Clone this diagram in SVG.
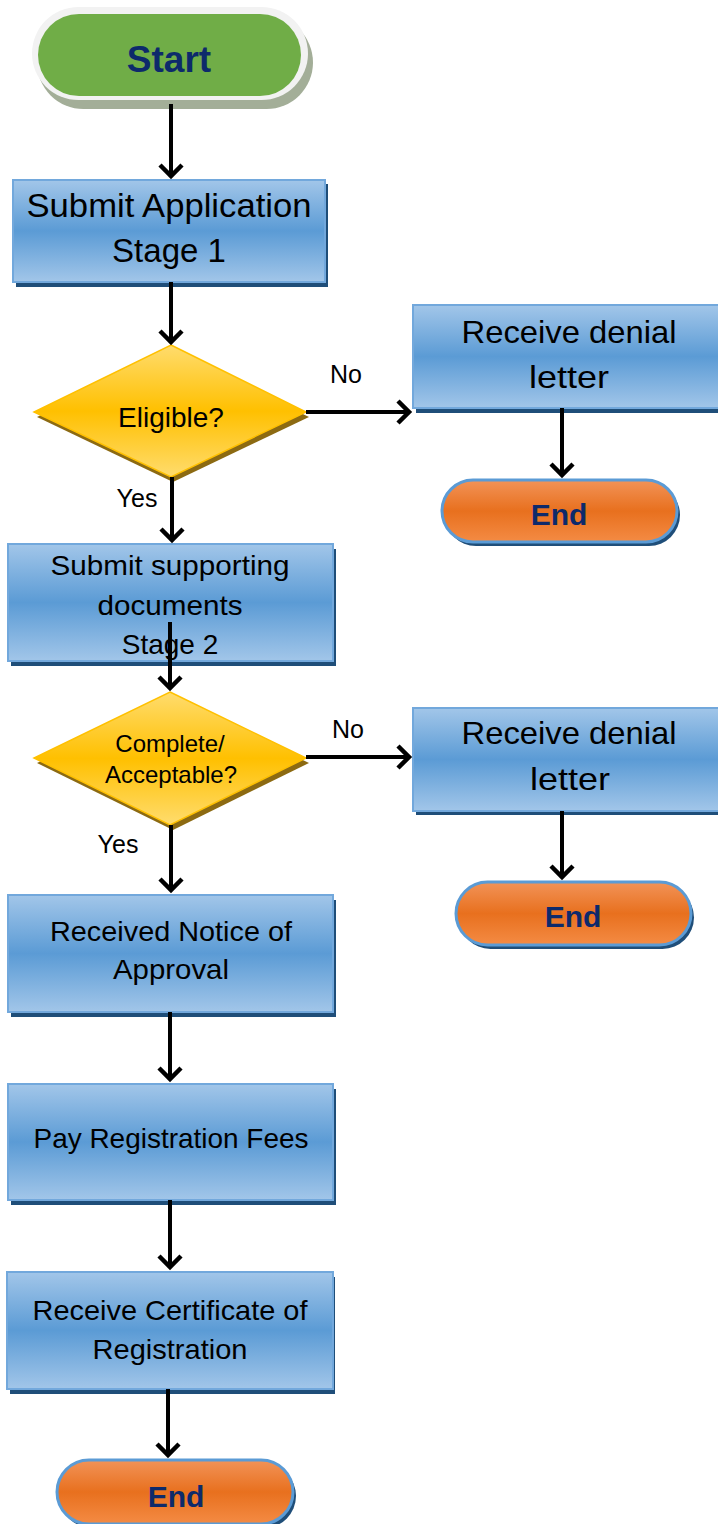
<svg xmlns="http://www.w3.org/2000/svg" width="718" height="1524" viewBox="0 0 718 1524">
<defs>
<linearGradient id="gBlue" x1="0" y1="0" x2="0" y2="1">
<stop offset="0" stop-color="#A2C6E9"/>
<stop offset="0.5" stop-color="#5B9BD5"/>
<stop offset="1" stop-color="#A2C6E9"/>
</linearGradient>
<linearGradient id="gYel" x1="0" y1="0" x2="0" y2="1">
<stop offset="0" stop-color="#FFDC6E"/>
<stop offset="0.5" stop-color="#FFC000"/>
<stop offset="1" stop-color="#FFDC6E"/>
</linearGradient>
<linearGradient id="gOr" x1="0" y1="0" x2="0" y2="1">
<stop offset="0" stop-color="#F29358"/>
<stop offset="0.5" stop-color="#E8701E"/>
<stop offset="1" stop-color="#F48B44"/>
</linearGradient>
<marker id="ah" viewBox="-16 -14 20 28" refX="0" refY="0" markerWidth="20" markerHeight="28" markerUnits="userSpaceOnUse" orient="auto">
<path d="M-11,-11 L0,0 L-11,11" fill="none" stroke="#000" stroke-width="4.5"/>
</marker>
</defs>
<style>
.box{fill:url(#gBlue);stroke:#72A8DC;stroke-width:2}
.bsh{fill:#1F4E79}
.dia{fill:url(#gYel);stroke:#FFC000;stroke-width:1.5}
.dsh{fill:#8C6A12}
.end{fill:url(#gOr);stroke:#5B9BD5;stroke-width:3}
.esh{fill:#1F4E79}
.t{font-family:"Liberation Sans",Arial,sans-serif;fill:#000;text-anchor:middle}
.tb{font-family:"Liberation Sans",Arial,sans-serif;font-weight:bold;fill:#0D2A6B;text-anchor:middle}
.c{stroke:#000;stroke-width:4;fill:none;marker-end:url(#ah)}
</style>

<g id="start">
<rect x="37" y="16" width="276" height="93" rx="46.5" fill="#A3AE98"/>
<rect x="32" y="7" width="276" height="93" rx="46.5" fill="#F2F2F2"/>
<rect x="38" y="14" width="263" height="82" rx="41" fill="#70AD47"/>
<text class="tb" x="169" y="72" font-size="37">Start</text>
</g>

<g id="submit1">
<rect class="bsh" x="16" y="184" width="312" height="103"/>
<rect class="box" x="13" y="180" width="312" height="102"/>
<text class="t" x="169" y="217" font-size="33" textLength="285" lengthAdjust="spacingAndGlyphs">Submit Application</text>
<text class="t" x="169" y="262" font-size="33">Stage 1</text>
</g>

<g id="eligible">
<polygon class="dsh" points="171,350 309,417 173,482 37,417"/>
<polygon class="dia" points="171,345 306,412 171,477 34,412"/>
<text class="t" x="171" y="427" font-size="28">Eligible?</text>
</g>

<g id="denial1">
<rect class="bsh" x="416" y="309" width="310" height="104"/>
<rect class="box" x="413" y="305" width="310" height="103"/>
<text class="t" x="569" y="343" font-size="32" textLength="215" lengthAdjust="spacingAndGlyphs">Receive denial</text>
<text class="t" x="569" y="388" font-size="32" textLength="80" lengthAdjust="spacingAndGlyphs">letter</text>
</g>

<g id="end1">
<rect class="esh" x="445" y="484" width="235" height="62" rx="31"/>
<rect class="end" x="442" y="480" width="235" height="62" rx="31"/>
<text class="tb" x="559" y="525" font-size="30">End</text>
</g>

<g id="submit2">
<rect class="bsh" x="11" y="549" width="325" height="117"/>
<rect class="box" x="8" y="544" width="325" height="117"/>
<text class="t" x="170" y="575" font-size="28" textLength="239" lengthAdjust="spacingAndGlyphs">Submit supporting</text>
<text class="t" x="170" y="615" font-size="28" textLength="145" lengthAdjust="spacingAndGlyphs">documents</text>
<text class="t" x="170" y="654" font-size="28">Stage 2</text>
</g>

<g id="complete">
<polygon class="dsh" points="172,697 309,763 173,830 37,763"/>
<polygon class="dia" points="170,692 306,758 170,825 34,758"/>
<text class="t" x="170" y="752" font-size="24">Complete/</text>
<text class="t" x="171" y="783" font-size="24">Acceptable?</text>
</g>

<g id="denial2">
<rect class="bsh" x="416" y="712" width="310" height="103"/>
<rect class="box" x="413" y="708" width="310" height="103"/>
<text class="t" x="569" y="744" font-size="32" textLength="215" lengthAdjust="spacingAndGlyphs">Receive denial</text>
<text class="t" x="570" y="790" font-size="32" textLength="80" lengthAdjust="spacingAndGlyphs">letter</text>
</g>

<g id="end2">
<rect class="esh" x="459" y="886" width="235" height="63" rx="31.5"/>
<rect class="end" x="456" y="882" width="235" height="63" rx="31.5"/>
<text class="tb" x="573" y="927" font-size="30">End</text>
</g>

<g id="approval">
<rect class="bsh" x="11" y="900" width="325" height="117"/>
<rect class="box" x="8" y="895" width="325" height="117"/>
<text class="t" x="171" y="941" font-size="28" textLength="242" lengthAdjust="spacingAndGlyphs">Received Notice of</text>
<text class="t" x="171" y="979" font-size="28" textLength="116" lengthAdjust="spacingAndGlyphs">Approval</text>
</g>

<g id="fees">
<rect class="bsh" x="11" y="1089" width="325" height="116"/>
<rect class="box" x="8" y="1084" width="325" height="116"/>
<text class="t" x="171" y="1148" font-size="28" textLength="275" lengthAdjust="spacingAndGlyphs">Pay Registration Fees</text>
</g>

<g id="certificate">
<rect class="bsh" x="10" y="1277" width="325" height="117"/>
<rect class="box" x="7" y="1272" width="326" height="117"/>
<text class="t" x="170" y="1320" font-size="28" textLength="275" lengthAdjust="spacingAndGlyphs">Receive Certificate of</text>
<text class="t" x="170" y="1359" font-size="28" textLength="155" lengthAdjust="spacingAndGlyphs">Registration</text>
</g>

<g id="end3">
<rect class="esh" x="60" y="1464" width="236" height="64" rx="32"/>
<rect class="end" x="57" y="1460" width="236" height="64" rx="32"/>
<text class="tb" x="176" y="1507" font-size="30">End</text>
</g>

<g id="connectors">
<line class="c" x1="171" y1="104" x2="171" y2="176"/>
<line class="c" x1="171" y1="282" x2="171" y2="342"/>
<line class="c" x1="306" y1="412" x2="409" y2="412"/>
<line class="c" x1="562" y1="408" x2="562" y2="475"/>
<line class="c" x1="172" y1="477" x2="172" y2="540"/>
<line class="c" x1="170" y1="622" x2="170" y2="688"/>
<line class="c" x1="306" y1="757" x2="409" y2="757"/>
<line class="c" x1="562" y1="811" x2="562" y2="877"/>
<line class="c" x1="171" y1="825" x2="171" y2="890"/>
<line class="c" x1="170" y1="1012" x2="170" y2="1079"/>
<line class="c" x1="170" y1="1200" x2="170" y2="1267"/>
<line class="c" x1="168" y1="1389" x2="168" y2="1455"/>
<text class="t" x="346" y="383" font-size="25">No</text>
<text class="t" x="137" y="507" font-size="25">Yes</text>
<text class="t" x="348" y="738" font-size="25">No</text>
<text class="t" x="118" y="853" font-size="25">Yes</text>
</g>
</svg>
